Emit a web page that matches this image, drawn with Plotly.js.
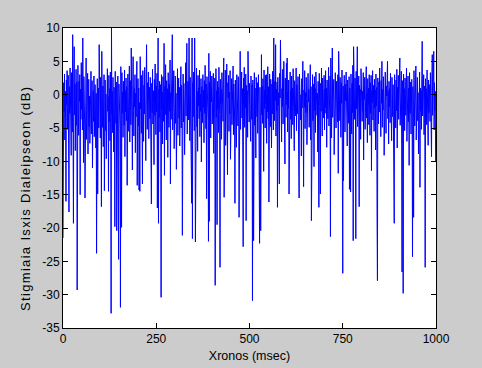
<!DOCTYPE html>
<html>
<head>
<meta charset="utf-8">
<script src="https://cdn.plot.ly/plotly-3.0.1.min.js"></script>
<style>html,body{margin:0;padding:0;background:#cccccc;}#chart{width:482px;height:368px;}</style>
</head>
<body>
<div id="chart"></div>
<script>
// Instantaneous fading level (dB), one sample per msec
const fadingDb = [
-21.5,-4.2,1.8,-2.5,3.1,-6.8,0.5,-3.4,-16.0,2.2,
-1.5,3.6,-5.2,-0.8,2.9,-7.5,-17.6,1.2,-2.8,4.0,
-3.9,0.9,-9.1,3.3,-1.2,-5.6,9.0,-2.1,-19.3,2.5,
7.2,-3.0,1.6,-8.4,0.3,3.8,-4.6,1.9,-29.3,-0.7,
4.4,-2.6,-6.1,2.0,-1.0,3.0,-15.0,0.8,-3.7,4.8,
-2.2,0.4,-5.3,8.5,-1.8,-10.2,2.7,-0.5,-4.4,-15.5,
1.4,-3.1,5.5,-6.7,0.0,-2.4,3.2,-8.9,-1.1,2.3,
-4.8,-0.2,-7.3,1.7,-3.6,3.5,-5.9,-1.4,2.1,-11.0,
-2.0,0.6,-4.0,2.8,-6.3,-0.9,1.5,-3.3,-8.0,0.2,
-23.8,-1.6,2.4,-14.9,-2.7,1.0,-5.0,7.5,-3.8,0.7,
-6.5,2.6,-1.9,-16.8,6.5,-0.4,-4.9,1.3,-7.8,-2.3,
3.0,-14.4,-1.0,2.2,-5.4,0.1,-9.6,1.8,-3.2,3.9,
-2.5,-0.3,-14.5,2.9,-4.1,0.9,-6.9,3.4,-1.7,-32.8,
10.0,-2.9,0.5,-5.7,2.6,-1.3,-8.6,1.1,-3.5,-19.8,
3.5,-0.6,-4.3,1.9,-20.4,0.0,-2.2,2.8,-6.0,-24.7,
1.6,-3.0,0.8,-5.1,-31.9,4.2,-1.5,-19.9,3.3,-2.8,
0.4,-6.4,2.0,-1.1,-4.6,3.7,-9.3,0.6,-2.6,2.5,
-3.9,1.2,-13.6,-0.8,3.1,-5.5,0.3,-2.0,4.3,-7.1,
-1.4,2.1,-4.5,7.0,-0.7,-3.7,-11.3,1.5,5.7,-2.4,
-6.2,0.9,-1.8,3.0,-8.7,0.2,-3.3,2.7,5.0,-13.6,
-0.9,2.4,-4.7,1.0,-14.3,-1.2,-14.5,5.7,-2.1,0.7,
-5.8,2.9,-1.6,-13.4,3.6,-0.4,-7.0,1.4,-2.9,4.1,
-4.2,0.5,-9.9,2.2,7.5,-1.9,-5.2,1.8,-0.8,3.4,
-6.6,-2.3,1.1,-3.6,2.6,-8.2,0.0,-16.4,1.7,-2.7,
3.8,-4.4,0.6,-1.3,-10.5,2.3,-3.1,4.6,-0.5,-6.0,
1.3,-2.6,3.2,-17.0,-1.0,8.5,-19.3,0.8,-3.4,2.0,
-5.6,1.5,-0.2,-30.4,3.0,-2.2,0.4,-7.4,2.7,-1.5,
-4.0,7.7,-12.1,1.2,-3.0,4.5,-0.6,-6.8,2.1,-2.0,
0.9,-9.4,3.3,-1.2,-4.9,1.6,-2.5,5.2,-13.4,0.3,
-3.7,2.4,-1.1,9.0,-5.3,0.7,-2.8,3.6,-8.1,1.0,
-1.8,2.8,-4.3,0.2,-11.2,1.9,-2.4,3.9,-6.1,-0.3,
2.5,-3.5,1.1,-7.7,0.6,-1.6,4.2,-5.0,1.4,-2.9,
-21.1,0.0,3.1,-4.1,1.7,-1.0,-9.0,2.2,-2.1,4.8,
-3.2,0.8,7.7,-5.9,-0.7,2.0,-3.8,1.3,8.5,-1.4,
-6.9,2.6,-2.3,0.4,-4.6,-16.3,8.5,-21.6,1.8,-3.3,
3.4,-0.9,-5.4,8.5,-2.0,-22.1,2.3,-1.2,4.0,-4.8,
0.5,-8.5,2.9,-1.7,1.0,-3.6,3.7,-6.3,0.1,-2.5,
2.4,-10.1,1.2,-0.6,-4.2,3.0,-1.9,0.7,-7.2,2.1,
-2.8,4.4,-0.3,-5.1,1.6,-15.6,2.7,-1.4,0.3,-3.9,
-22.0,6.2,-19.0,1.9,-2.6,3.5,-6.5,0.9,-1.1,2.8,
-4.4,0.2,-2.3,3.2,-8.8,1.4,-0.8,2.5,-28.6,-1.5,
3.9,-3.4,0.6,-19.5,2.0,-2.1,1.1,-5.7,4.1,-0.4,
-3.0,-25.9,2.3,-1.3,0.8,-6.7,3.3,-2.7,1.5,-4.0,
2.6,5.5,-15.4,0.0,-2.2,3.7,-7.6,1.0,-1.6,4.6,
-3.8,-12.0,1.8,-0.5,2.9,-5.5,0.4,-2.9,3.6,-9.7,
1.3,-1.9,2.4,-4.5,0.7,-2.4,4.3,-6.0,1.6,-0.9,
-3.2,-16.3,2.2,-1.0,0.5,-7.9,3.0,-2.3,1.2,-4.7,
2.7,-0.2,-18.4,1.9,-2.6,6.5,-5.2,0.3,-1.7,3.4,
-3.5,0.9,-8.3,-22.8,2.5,-1.4,4.1,-4.9,0.1,-2.0,
3.1,-18.9,1.4,-3.1,0.6,-6.4,6.5,-1.2,2.0,-4.1,
1.7,-2.5,0.4,-7.0,2.8,-0.7,-3.7,1.5,-30.9,2.2,
-1.8,-21.9,0.8,3.3,-4.6,1.0,-2.2,-9.5,2.6,-0.3,
-3.3,1.8,-5.8,0.5,3.0,-1.5,-6.9,-22.3,1.1,-2.7,
-20.4,0.2,6.0,-3.0,1.3,-4.3,2.4,-0.8,-11.5,3.7,
-2.1,0.7,-5.0,2.9,-1.3,3.0,-7.3,0.0,-2.6,4.2,
-3.6,1.2,-16.1,0.6,3.1,-1.9,-4.8,2.3,-0.4,-8.0,
1.6,-2.9,3.5,-0.6,-5.3,8.5,-1.1,-3.9,2.0,-0.9,
7.5,-6.2,0.8,-2.4,1.9,-16.9,2.6,-1.6,0.3,-4.1,
-13.4,3.2,-0.5,8.2,-2.8,1.4,-7.1,0.9,-1.8,3.8,
-4.4,0.1,5.0,-2.3,1.7,-10.4,2.5,-0.7,-3.4,4.7,
-1.5,5.5,-5.6,0.4,-2.1,2.2,-14.9,1.3,-0.9,3.4,
-3.7,0.6,-6.6,2.8,-1.2,1.0,-4.5,3.9,-2.6,0.2,
-8.4,2.1,-1.7,0.9,-3.2,4.0,-5.4,1.5,-0.4,-2.9,
2.7,-6.0,0.5,-15.5,3.1,-1.4,1.8,-3.8,0.0,-9.2,
2.4,-2.0,1.1,5.0,-4.2,-13.8,0.7,-1.9,3.6,-5.1,
0.3,-2.7,2.6,-0.6,-7.5,1.9,-3.3,3.2,-1.1,0.8,
-4.9,2.3,-2.2,4.5,-6.8,1.2,-18.9,0.4,-1.6,3.0,
-3.9,1.6,-0.2,-10.8,2.7,-2.4,0.9,-5.7,3.4,-1.0,
1.4,-3.1,0.2,-8.6,2.0,-1.8,-16.9,3.2,-0.7,-4.4,
-14.9,1.7,-2.5,4.0,-0.3,-6.2,2.5,-1.4,0.6,-3.5,
2.9,-5.3,0.8,-1.9,3.6,-2.8,1.0,-7.9,2.2,-0.5,
-3.6,1.5,4.1,-4.7,0.1,-2.1,2.8,-21.3,5.5,-1.2,
-6.5,1.9,7.0,-3.4,0.4,-1.5,2.3,-9.0,1.1,-2.6,
3.3,-0.8,-5.0,2.0,-1.7,0.7,-4.1,3.0,-11.8,6.5,
-2.2,0.9,-3.9,2.6,-0.6,-6.4,1.8,-1.3,3.7,-4.6,
-26.8,1.3,-12.9,0.5,2.9,-2.0,-5.6,1.6,-0.9,3.4,
-3.3,0.3,-7.7,2.2,-1.4,0.9,-4.3,2.7,-14.2,1.0,
-2.4,-14.6,3.1,-0.4,-5.9,1.7,-2.7,4.4,-21.9,7.2,
-1.6,0.6,-3.7,2.5,-0.8,-21.6,3.5,-2.1,1.2,7.2,
-4.8,0.0,-1.9,2.8,-16.8,1.4,-3.0,0.8,-6.7,3.9,
-1.1,2.0,-4.0,0.5,-2.5,3.3,-9.8,1.2,-0.7,2.6,
-5.2,0.9,-2.2,4.2,-3.5,0.2,-7.2,2.4,-1.5,1.0,
-4.5,3.0,-0.3,-6.1,1.8,-2.8,2.9,-11.4,0.6,-1.2,
3.6,-3.8,1.4,-0.6,-5.5,2.3,-2.0,0.7,-8.3,3.1,
-1.7,1.1,-18.6,-27.9,2.5,-0.9,-4.4,1.9,-2.6,4.0,
-3.0,0.4,-6.3,2.1,-1.3,5.0,-4.9,0.8,-2.3,2.7,
-0.5,-9.1,1.6,-2.9,3.4,-1.0,-5.8,1.3,-0.2,2.4,
5.0,-3.6,0.6,-7.4,2.0,-1.8,0.9,-4.2,3.2,-2.1,
1.0,-6.9,2.6,-0.7,-3.3,1.5,-15.1,0.3,-19.3,3.0,
-1.4,0.7,-5.0,2.2,-2.4,3.8,-8.0,1.1,-0.8,2.9,
-3.7,1.7,-1.2,5.5,-4.6,0.5,-2.6,3.5,-6.5,-26.6,
2.1,-1.0,-29.8,3.1,-2.3,0.9,-5.4,2.5,-0.4,-3.1,
1.4,4.0,-7.0,0.2,-1.9,2.8,-4.1,1.0,-10.6,3.3,
-0.6,-2.8,1.9,-5.9,0.6,2.3,-3.4,-24.3,1.2,-1.5,
-18.4,3.6,-0.9,-4.7,1.5,-2.2,4.3,-6.8,0.8,-1.6,
2.6,-3.9,0.3,-8.9,2.1,-1.1,3.4,-13.9,1.0,-2.5,
0.6,-5.2,2.9,8.0,-3.2,0.4,-1.8,3.0,-6.0,1.3,
-0.7,-25.9,2.4,-2.0,0.9,-4.5,3.7,-1.3,0.1,-7.6,
2.2,-2.7,1.5,-0.3,-4.0,3.3,-1.7,0.7,-9.3,2.5,
6.0,-3.1,1.1,-0.8,6.5,-5.3,1.8,-2.4,0.5,-10.0
];
const xTickVals = [0, 250, 500, 750, 1000];
const xTickText = ['0', '250', '500', '750', '1000'];
const yTickVals = [-35, -30, -25, -20, -15, -10, -5, 0, 5, 10];
const yTickText = ['-35', '-30', '-25', '-20', '-15', '-10', '-5', '0', '5', '10'];
const xLabel = 'Xronos (msec)';
const yLabel = 'Stigmiaia Isxis Dialeipseon (dB)';

const timeMs = fadingDb.map((v, i) => i);

const FONT = 'Liberation Sans, Arial, sans-serif';
const axisCommon = {
  showgrid: false, zeroline: false, showline: true, linecolor: '#000', linewidth: 1,
  mirror: 'ticks', ticks: 'inside', ticklen: 5, tickcolor: '#000', tickwidth: 1,
  tickfont: {family: FONT, size: 12, color: '#000'},
  tickmode: 'array'
};

Plotly.newPlot('chart', [{
  x: timeMs, y: fadingDb, type: 'scatter', mode: 'lines',
  line: {color: '#0000ff', width: 1}, hoverinfo: 'skip'
}], {
  width: 482, height: 368,
  paper_bgcolor: '#cccccc', plot_bgcolor: '#ffffff',
  margin: {l: 63, r: 46, t: 28, b: 40, pad: 0},
  showlegend: false,
  xaxis: Object.assign({}, axisCommon, {
    range: [0, 1000], tickvals: xTickVals, ticktext: xTickText,
    title: {text: xLabel, standoff: 5, font: {family: FONT, size: 12.5, color: '#000'}}
  }),
  yaxis: Object.assign({}, axisCommon, {
    range: [-35, 10], tickvals: yTickVals, ticktext: yTickText,
    title: {text: yLabel, standoff: 6, font: {family: FONT, size: 13, color: '#000'}}
  })
}, {staticPlot: true, displayModeBar: false}).then(function (gd) {
  // MATLAB draws the rotated label with wider spacing and a bit lower/left
  const t = gd.querySelector('.ytitle');
  if (!t) return;
  t.setAttribute('textLength', '224');
  t.setAttribute('lengthAdjust', 'spacing');
  const r = t.getBoundingClientRect();
  const cx = r.left + r.width / 2, cy = r.top + r.height / 2;
  const dx = 25 - cx, dy = 199 - cy;
  const tr = t.getAttribute('transform') || '';
  t.setAttribute('transform', 'translate(' + dx + ',' + dy + ') ' + tr);
});
</script>
</body>
</html>
